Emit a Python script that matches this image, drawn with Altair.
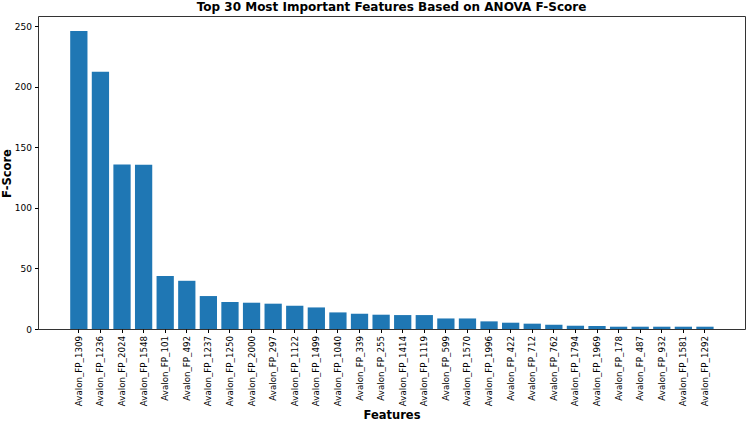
import altair as alt
import pandas as pd

features = ["Avalon_FP_1309", "Avalon_FP_1236", "Avalon_FP_2024", "Avalon_FP_1548", "Avalon_FP_101",
            "Avalon_FP_492", "Avalon_FP_1237", "Avalon_FP_1250", "Avalon_FP_2000", "Avalon_FP_297",
            "Avalon_FP_1122", "Avalon_FP_1499", "Avalon_FP_1040", "Avalon_FP_339", "Avalon_FP_255",
            "Avalon_FP_1414", "Avalon_FP_1119", "Avalon_FP_599", "Avalon_FP_1570", "Avalon_FP_1996",
            "Avalon_FP_422", "Avalon_FP_712", "Avalon_FP_762", "Avalon_FP_1794", "Avalon_FP_1969",
            "Avalon_FP_178", "Avalon_FP_487", "Avalon_FP_932", "Avalon_FP_1581", "Avalon_FP_1292"]
f_scores = [246.0, 212.4, 135.8, 135.7, 43.7, 39.8, 27.2, 22.3, 21.7, 20.9,
            19.2, 17.8, 13.7, 12.6, 11.8, 11.5, 11.5, 8.7, 8.7, 6.3,
            5.2, 4.4, 3.5, 2.7, 2.5, 1.9, 1.9, 1.9, 1.9, 1.9]

df = pd.DataFrame({"feature": features, "score": f_scores})

FONT = "DejaVu Sans"

chart = alt.Chart(df).mark_bar(color="#1f77b4").encode(
    x=alt.X("feature:N", sort=None,
            scale=alt.Scale(paddingInner=0.2, paddingOuter=0, range=[32.2, 675.6]),
            axis=alt.Axis(title="Features", labelAngle=-90, labelFontSize=8.7, labelFont=FONT,
                          labelColor="black", tickColor="black", tickSize=3.5, labelPadding=3,
                          domain=False, titleFont=FONT, titleFontSize=11.5, titleFontWeight="bold",
                          titleColor="black", labelLimit=200, titleX=353.5, titleY=80,
                          titleBaseline="top")),
    y=alt.Y("score:Q", scale=alt.Scale(domain=[0, 258.4], nice=False, zero=True),
            axis=alt.Axis(title="F-Score", values=[0, 50, 100, 150, 200, 250], grid=False,
                          labelFontSize=9, labelFont=FONT, labelColor="black",
                          tickColor="black", tickSize=3.5, labelPadding=3, domain=False,
                          titleFont=FONT, titleFontSize=11.5, titleFontWeight="bold",
                          titleColor="black", titleX=-26, titleY=157, titleBaseline="bottom")),
).properties(
    width=707, height=313,
    title=alt.TitleParams("Top 30 Most Important Features Based on ANOVA F-Score",
                          font=FONT, fontSize=12, fontWeight="bold", color="black",
                          anchor="middle", offset=2),
    autosize=alt.AutoSizeParams(type="none"),
    padding={"left": 38, "top": 16, "right": 4, "bottom": 93},
).configure_view(
    stroke="#333333", strokeWidth=1
)

chart.save("out.html", embed_options={"renderer": "svg", "actions": False})
